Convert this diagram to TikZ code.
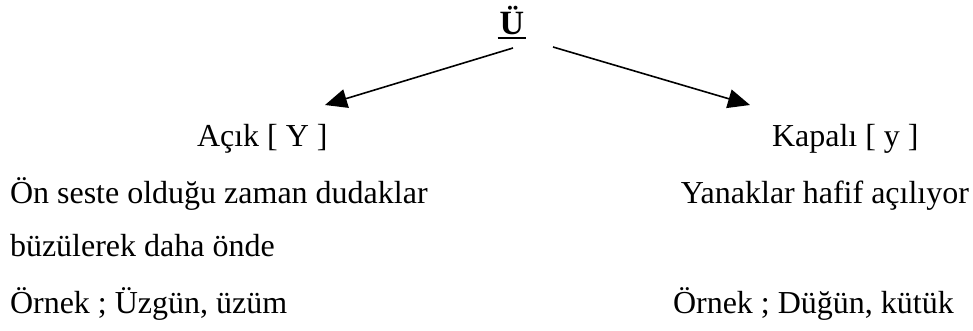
\documentclass[tikz,border=0pt]{standalone}
\usepackage{fontspec}
\setmainfont{Liberation Serif}
\usetikzlibrary{arrows.meta}
\begin{document}
\begin{tikzpicture}[x=1pt,y=-1pt,
  txt/.style={inner sep=0pt,outer sep=0pt,font=\fontsize{32}{38}\selectfont},
  arr/.style={line width=1.6pt,-{Triangle[length=22pt,width=19pt]}}]
\useasboundingbox (0,0) rectangle (973,330);
\node[txt,anchor=base,font=\fontsize{34}{38}\selectfont] (u) at (512,34) {\textbf{Ü}};
\draw[line width=2pt] ([xshift=-2pt,yshift=-4pt]u.base west) -- ([xshift=2pt,yshift=-4pt]u.base east);
\node[txt,anchor=base west] (acik) at (197,146) {Açık [ Y ]};
\node[txt,anchor=base west] (kapali) at (772,146) {Kapalı [ y ]};
\node[txt,anchor=base west] (l1) at (10,203) {Ön seste olduğu zaman dudaklar};
\node[txt,anchor=base west] (l2) at (10,256) {büzülerek daha önde};
\node[txt,anchor=base west] (l3) at (10,313) {Örnek ; Üzgün, üzüm};
\node[txt,anchor=base east] (r1) at (969,203) {Yanaklar hafif açılıyor};
\node[txt,anchor=base west] (r3) at (673,313) {Örnek ; Düğün, kütük};
\coordinate (ls) at (513,48);
\coordinate (lt) at (325,105);
\coordinate (rs) at (553,47);
\coordinate (rt) at (750,105);
\draw[arr] (ls) -- (lt);
\draw[arr] (rs) -- (rt);
\end{tikzpicture}
\end{document}
